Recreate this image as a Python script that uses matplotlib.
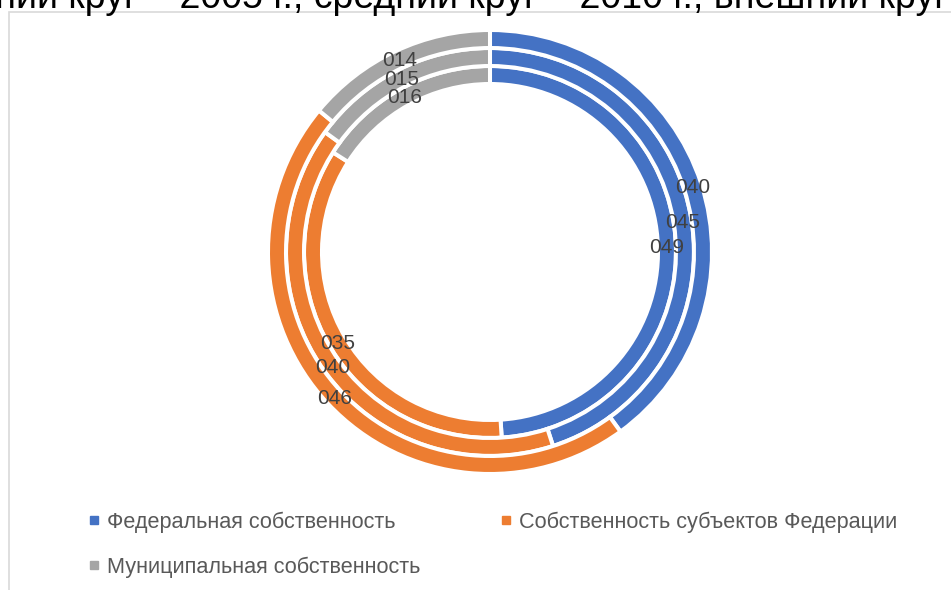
import numpy as np
import matplotlib.pyplot as plt
from matplotlib.lines import Line2D

plt.rcParams['font.family'] = ['Liberation Sans', 'DejaVu Sans']

# rings from inside out
years = ['2005', '2010', '2015']
categories = ['Федеральная собственность',
              'Собственность субъектов Федерации',
              'Муниципальная собственность']
federal = [0.49, 0.45, 0.40]
subjects = [0.35, 0.40, 0.46]
municipal = [0.16, 0.15, 0.14]
colors = ['#4472C4', '#ED7D31', '#A5A5A5']

title = 'Внутренний круг – 2005 г., средний круг – 2010 г., внешний круг – 2015 г.'

W, H = 951, 590
fig = plt.figure(figsize=(W / 100, H / 100), dpi=100)
ax = fig.add_axes([0, 0, 1, 1])

cx, cy = 490, H - 252
r_out = 222
ring_w = 18

for i in range(len(years)):
    vals = [federal[i], subjects[i], municipal[i]]
    r = r_out - (len(years) - 1 - i) * ring_w
    wedges, _ = ax.pie(vals, radius=r, center=(cx, cy), startangle=90,
                       counterclock=False, colors=colors,
                       wedgeprops=dict(width=ring_w, edgecolor='white', linewidth=2.9))
    for w, v in zip(wedges, vals):
        ang = np.deg2rad((w.theta1 + w.theta2) / 2)
        rm = r - ring_w / 2
        ax.text(cx + rm * np.cos(ang), cy + rm * np.sin(ang) - 1, '0%02d' % round(v * 100),
                ha='center', va='center', fontsize=15, color='#404040', zorder=5)

ax.set_xlim(0, W)
ax.set_ylim(0, H)
ax.axis('off')

# chart area border (only left and top visible)
ax.plot([9, 9, W], [0, H - 12, H - 12], color='#D9D9D9', lw=1.2, solid_joinstyle='miter')

# title, cut off at the top
ax.text(477, H - 8, title, ha='center', va='baseline', fontsize=27, color='black')

handles = [Line2D([], [], marker='s', ls='', color=c, markersize=6) for c in colors]
order = [0, 2, 1]
ax.legend([handles[k] for k in order], [categories[k] for k in order],
          ncol=2, loc='upper left', bbox_to_anchor=(69 / W, 1 - 492 / H),
          frameon=False, fontsize=15.6, labelcolor='#595959',
          handlelength=0.5, handletextpad=0.35, columnspacing=3.7, labelspacing=1.1)

fig.savefig('out.png', dpi=100)
